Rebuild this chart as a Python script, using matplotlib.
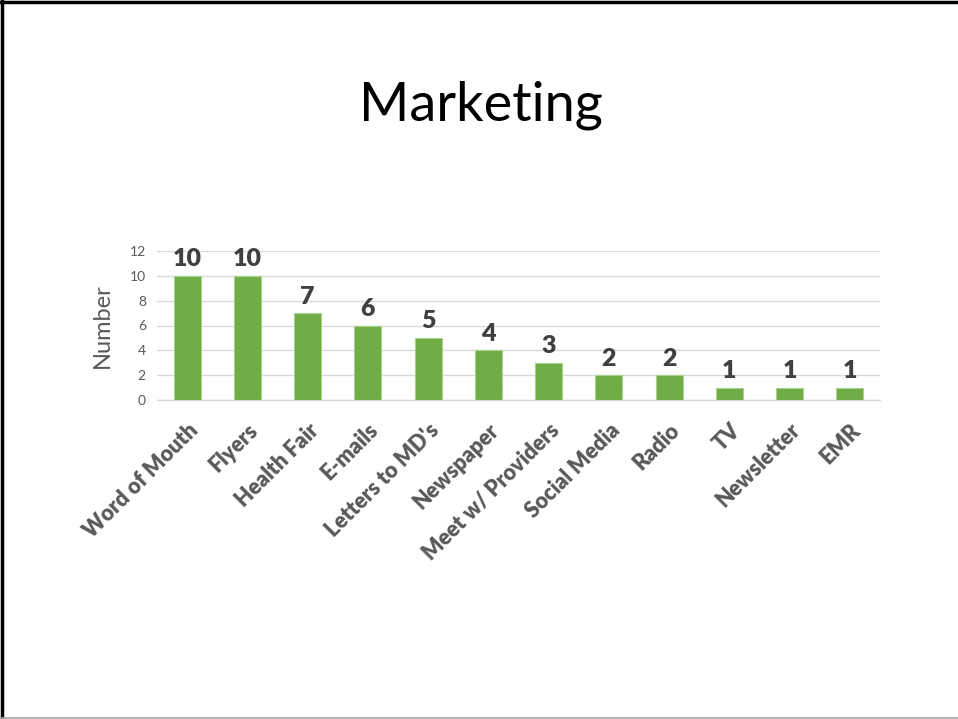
import matplotlib
matplotlib.use("Agg")
import matplotlib.pyplot as plt
from matplotlib.lines import Line2D

plt.rcParams['font.family'] = ['Lato', 'DejaVu Sans']

categories = ["Word of Mouth", "Flyers", "Health Fair", "E-mails", "Letters to MD's",
              "Newspaper", "Meet w/ Providers", "Social Media", "Radio", "TV",
              "Newsletter", "EMR"]
counts = [10, 10, 7, 6, 5, 4, 3, 2, 2, 1, 1, 1]
y_ticks = [0, 2, 4, 6, 8, 10, 12]

W, H = 958, 719
fig = plt.figure(figsize=(W / 100, H / 100), dpi=100)

# slide frame
fig.add_artist(Line2D([1.5 / W, 1.5 / W], [0, 1], color="black", lw=2.5, transform=fig.transFigure))
fig.add_artist(Line2D([0, 1], [1 - 1.5 / H, 1 - 1.5 / H], color="black", lw=2.5, transform=fig.transFigure))
fig.add_artist(Line2D([0, 1], [1.5 / H, 1.5 / H], color="#a6a6a6", lw=1.2, transform=fig.transFigure))

fig.text(481 / W, 1 - 105 / H, "Marketing", ha="center", va="center", fontsize=39, color="black")

left, right = 157 / W, 880 / W
bottom, top = 1 - 400 / H, 1 - 251 / H
ax = fig.add_axes([left, bottom, right - left, top - bottom])

x = range(len(categories))
ax.bar(x, counts, width=0.45, color="#70AD47", edgecolor="#A9D18E", linewidth=0.8, zorder=3)
for xi, v in zip(x, counts):
    ax.annotate(str(v), (xi, v), xytext=(0, 4), textcoords="offset points",
                ha="center", va="bottom", fontsize=18, fontweight="heavy", color="#404040")

ax.set_xlim(-0.5, len(categories) - 0.5)
ax.set_ylim(0, 12)
ax.set_yticks(y_ticks)
ax.set_yticklabels([str(t) for t in y_ticks], fontsize=10, color="#595959")
ax.grid(axis="y", color="#D9D9D9", linewidth=1, zorder=0)
for s in ["top", "right", "left"]:
    ax.spines[s].set_visible(False)
ax.spines["bottom"].set_color("#D9D9D9")
ax.spines["bottom"].set_linewidth(1)
ax.tick_params(axis="both", length=0)
ax.tick_params(axis="y", pad=8)

ax.set_xticks(list(x))
ax.set_xticklabels(categories, rotation=45, ha="right", rotation_mode="anchor",
                   fontsize=15.5, fontweight="heavy", color="#595959")
ax.tick_params(axis="x", pad=14)
ax.set_ylabel("Number", fontsize=17, color="#595959", labelpad=12)

fig.savefig("out.png", dpi=100)
